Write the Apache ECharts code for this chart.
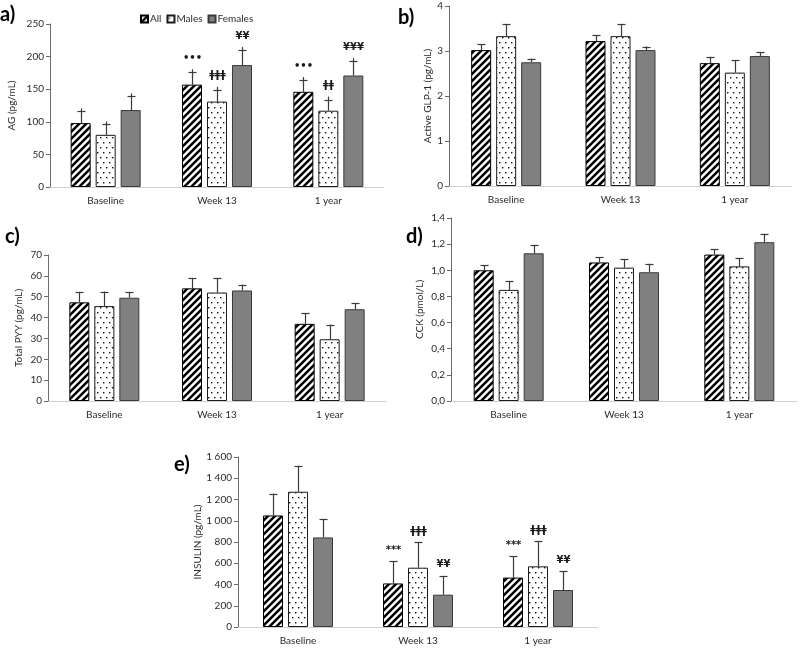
<!DOCTYPE html>
<html><head><meta charset="utf-8">
<script src="https://cdn.jsdelivr.net/npm/echarts@6/dist/echarts.min.js"></script>
<style>html,body{margin:0;padding:0;background:#fff}#c{width:800px;height:648px}</style>
</head><body><div id="c"></div>
<script>
// ---------- DATA ----------
const categories = ['Baseline', 'Week 13', '1 year'];
const groups = ['All', 'Males', 'Females'];

// a) AG (pg/mL)
const agAll = [98, 157, 146],   agAllErr = [18, 19, 18];
const agMales = [80, 131, 117], agMalesErr = [16, 18, 17];
const agFemales = [118, 187, 171], agFemalesErr = [21, 23, 22];
const agNotesAll = ['', '•••', '•••'];
const agNotesMales = ['', 'ǂǂǂ', 'ǂǂ'];
const agNotesFemales = ['', '¥¥', '¥¥¥'];

// b) Active GLP-1 (pg/mL)
const glpAll = [3.02, 3.22, 2.73],   glpAllErr = [0.13, 0.13, 0.14];
const glpMales = [3.33, 3.33, 2.52], glpMalesErr = [0.27, 0.27, 0.27];
const glpFemales = [2.75, 3.02, 2.89], glpFemalesErr = [0.08, 0.08, 0.08];

// c) Total PYY (pg/mL)
const pyyAll = [47.3, 54, 37],     pyyAllErr = [5, 5, 5];
const pyyMales = [45.5, 52, 29.6], pyyMalesErr = [7, 7, 7];
const pyyFemales = [49.5, 53, 44], pyyFemalesErr = [2.8, 2.8, 2.8];

// d) CCK (pmol/L)
const cckAll = [1.00, 1.06, 1.12],   cckAllErr = [0.04, 0.04, 0.04];
const cckMales = [0.85, 1.02, 1.03], cckMalesErr = [0.065, 0.065, 0.065];
const cckFemales = [1.13, 0.985, 1.215], cckFemalesErr = [0.065, 0.065, 0.065];

// e) INSULIN (pg/mL)
const insAll = [1050, 410, 465],   insAllErr = [205, 210, 200];
const insMales = [1273, 558, 571], insMalesErr = [240, 240, 237];
const insFemales = [843, 304, 348], insFemalesErr = [175, 177, 175];
const insNotesAll = ['', '***', '***'];
const insNotesMales = ['', 'ǂǂǂ', 'ǂǂǂ'];
const insNotesFemales = ['', '¥¥', '¥¥'];

// axis ticks
const agTicks = {min: 0, max: 250, interval: 50};
const glpTicks = {min: 0, max: 4, interval: 1};
const pyyTicks = {min: 0, max: 70, interval: 10};
const cckTicks = {min: 0, max: 1.4, interval: 0.2};
const insTicks = {min: 0, max: 1600, interval: 200};

// ---------- PATTERNS ----------
function stripeCanvas() {
  const n = 7, c = document.createElement('canvas'); c.width = c.height = n;
  const g = c.getContext('2d');
  g.fillStyle = '#fff'; g.fillRect(0, 0, n, n);
  g.strokeStyle = '#000'; g.lineWidth = 2.5; g.beginPath();
  g.moveTo(-1, n + 1); g.lineTo(n + 1, -1);
  g.moveTo(-2, 2); g.lineTo(2, -2);
  g.moveTo(n - 2, n + 2); g.lineTo(n + 2, n - 2);
  g.stroke();
  return c;
}
function dotCanvas() {
  const w = 6, h = 10, c = document.createElement('canvas'); c.width = w; c.height = h;
  const g = c.getContext('2d');
  g.fillStyle = '#fff'; g.fillRect(0, 0, w, h);
  g.fillStyle = '#111';
  g.fillRect(1, 2, 1.4, 1.4);
  g.fillRect(4, 7, 1.4, 1.4);
  return c;
}
const styles = [
  {color: {image: stripeCanvas(), repeat: 'repeat'}, borderColor: '#000', borderWidth: 1},
  {color: {image: dotCanvas(), repeat: 'repeat'}, borderColor: '#1a1a1a', borderWidth: 1},
  {color: '#808080', borderColor: '#3a3a3a', borderWidth: 1}
];

// ---------- LAYOUT ----------
const FONT = 'Lato, "Open Sans", sans-serif';
const TXT = '#2a2a2a';
const panels = [
  {grid: {left: 50, top: 24, width: 334, height: 163}, ticks: agTicks, name: 'AG (pg/mL)', nameGap: 33,
   vals: [agAll, agMales, agFemales], errs: [agAllErr, agMalesErr, agFemalesErr],
   notes: [agNotesAll, agNotesMales, agNotesFemales], plus: true, fmt: v => String(v)},
  {grid: {left: 449, top: 6, width: 343, height: 180}, ticks: glpTicks, name: 'Active GLP-1 (pg/mL)', nameGap: 16,
   vals: [glpAll, glpMales, glpFemales], errs: [glpAllErr, glpMalesErr, glpFemalesErr],
   notes: null, plus: false, fmt: v => String(v)},
  {grid: {left: 48, top: 255, width: 338, height: 146}, ticks: pyyTicks, name: 'Total PYY (pg/mL)', nameGap: 24,
   vals: [pyyAll, pyyMales, pyyFemales], errs: [pyyAllErr, pyyMalesErr, pyyFemalesErr],
   notes: null, plus: false, fmt: v => String(v)},
  {grid: {left: 451, top: 218, width: 346, height: 183}, ticks: cckTicks, name: 'CCK (pmol/L)', nameGap: 26,
   vals: [cckAll, cckMales, cckFemales], errs: [cckAllErr, cckMalesErr, cckFemalesErr],
   notes: null, plus: false, fmt: v => v.toFixed(1).replace('.', ',')},
  {grid: {left: 238, top: 457, width: 360, height: 170}, ticks: insTicks, name: 'INSULIN (pg/mL)', nameGap: 34,
   vals: [insAll, insMales, insFemales], errs: [insAllErr, insMalesErr, insFemalesErr],
   notes: [insNotesAll, insNotesMales, insNotesFemales], plus: false,
   fmt: v => String(v).replace(/\B(?=(\d{3})+(?!\d))/g, ' ')}
];

const BAR_W = 20, BAR_STEP = 25;
const grids = [], xAxes = [], yAxes = [], series = [];
panels.forEach((p, pi) => {
  grids.push(p.grid);
  xAxes.push({
    type: 'category', gridIndex: pi, data: categories,
    axisLine: {lineStyle: {color: '#d0d0d0', width: 1}}, axisTick: {show: false},
    axisLabel: {color: TXT, fontSize: 10, fontFamily: FONT, margin: 9}
  });
  yAxes.push({
    type: 'value', gridIndex: pi, min: p.ticks.min, max: p.ticks.max, interval: p.ticks.interval,
    name: p.name, nameLocation: 'middle', nameGap: p.nameGap,
    nameTextStyle: {color: TXT, fontSize: 10, fontFamily: FONT},
    axisLine: {show: true, lineStyle: {color: '#6a6a6a', width: 1}},
    axisTick: {show: true, length: 4, lineStyle: {color: '#6a6a6a'}},
    splitLine: {show: false},
    axisLabel: {color: TXT, fontSize: 10, fontFamily: FONT, margin: 6, formatter: p.fmt}
  });
  groups.forEach((gname, si) => {
    series.push({
      type: 'bar', name: gname, xAxisIndex: pi, yAxisIndex: pi,
      data: p.vals[si], barWidth: BAR_W, barGap: '25%',
      itemStyle: styles[si], emphasis: {disabled: true}, silent: true
    });
  });
  groups.forEach((gname, si) => {
    const vals = p.vals[si], errs = p.errs[si];
    const notes = p.notes ? p.notes[si] : ['', '', ''];
    series.push({
      type: 'custom', xAxisIndex: pi, yAxisIndex: pi, silent: true, z: 5,
      data: vals.map((v, i) => [i, v, errs[i]]),
      renderItem: function (params, api) {
        const i = api.value(0), v = api.value(1), e = api.value(2);
        const note = notes[i];
        const b = api.coord([i, v]), t = api.coord([i, v + e]);
        const x = Math.round(b[0] + (si - 1) * BAR_STEP) + 0.5;
        const ext = p.plus ? 3 : 0;
        const st = {stroke: '#3a3a3a', lineWidth: 1.2};
        const ch = [
          {type: 'line', shape: {x1: x, y1: b[1], x2: x, y2: t[1] - ext}, style: st},
          {type: 'line', shape: {x1: x - 4, y1: Math.round(t[1]) + 0.5, x2: x + 4, y2: Math.round(t[1]) + 0.5}, style: st}
        ];
        if (note) {
          ch.push({type: 'text', x: x, y: t[1] - 11 - ext,
            style: {text: note, align: 'center', verticalAlign: 'middle', fill: '#1a1a1a',
              font: 'bold 10px "DejaVu Sans", sans-serif'}});
        }
        return {type: 'group', children: ch};
      }
    });
  });
});

const letters = [
  {t: 'a)', x: 0, y: 5}, {t: 'b)', x: 398, y: 8}, {t: 'c)', x: 5, y: 227},
  {t: 'd)', x: 406, y: 227}, {t: 'e)', x: 174, y: 455}
];

const chart = echarts.init(document.getElementById('c'), null, {renderer: 'canvas'});
chart.setOption({
  animation: false,
  backgroundColor: '#fff',
  grid: grids, xAxis: xAxes, yAxis: yAxes, series: series,
  legend: {
    data: groups, left: 135, top: 9, itemWidth: 7, itemHeight: 7, itemGap: 5,
    icon: 'rect', selectedMode: false,
    textStyle: {color: TXT, fontSize: 10, fontFamily: FONT, padding: [0, 0, 0, -3]}
  },
  graphic: letters.map(l => ({
    type: 'text', left: l.x, top: l.y,
    style: {text: l.t, font: 'bold 20px Lato, "Open Sans", sans-serif', fill: '#000'}
  }))
});
</script></body></html>
